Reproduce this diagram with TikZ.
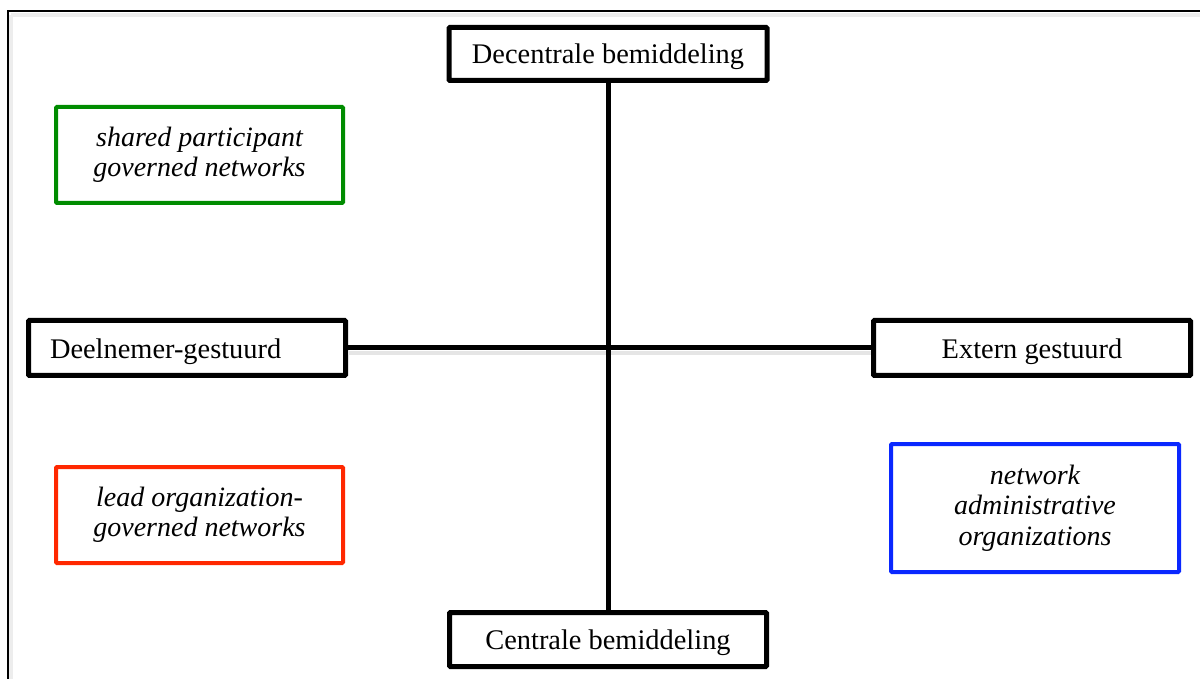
\documentclass[tikz,border=0pt]{standalone}
\usepackage{fontspec}
\setmainfont{Liberation Serif}
\begin{document}
\begin{tikzpicture}[x=0.5pt,y=-0.5pt,
  axisbox/.style={draw=black, line width=2.5pt, fill=white, rounded corners=0.5pt,
    minimum width=158.5pt, minimum height=27pt, inner sep=0pt,
    text height=11pt, text depth=1pt,
    font=\fontsize{14.2}{15}\selectfont},
  typebox/.style={line width=2pt, fill=white, rounded corners=0.5pt,
    inner sep=0pt, align=center,
    font=\fontsize{14}{15.2}\selectfont\itshape},
  axisline/.style={line width=2.5pt, black},
  shade/.style={black!7, line width=2pt}
]
\useasboundingbox (0,0) rectangle (1200,679);
\begin{scope}
\clip (0,0) rectangle (1200,679);
% outer frame with soft shadow
\draw[shade] (11,15) -- (1210,15);
\draw[shade] (11,15) -- (11,700);
\draw[line width=1pt, black] (8,700) -- (8,11) -- (1210,11);
\end{scope}

% axis nodes
\node[axisbox, minimum width=159pt, minimum height=26.5pt] (top) at (608,54) {Decentrale bemiddeling};
\node[axisbox] (bottom) at (608,639.5) {Centrale bemiddeling};
\node[axisbox, minimum height=27.5pt, text width=137pt, inner xsep=10.75pt, align=left] (left) at (187,348) {Deelnemer-gestuurd};
\node[axisbox, minimum height=27.5pt] (right) at (1032,348) {Extern gestuurd};

% axes
\draw[black!10, line width=2pt] ([yshift=-2.5pt]left.east) -- ([yshift=-2.5pt]right.west);
\draw[axisline] (top.south) -- (bottom.north);
\draw[axisline] (left.east) -- (right.west);

% governance types
\node[typebox, draw={rgb,255:red,0;green,140;blue,0}, minimum width=143.5pt, minimum height=48pt] (spg) at (199.5,155)
  {shared participant\\governed networks};
\node[typebox, draw={rgb,255:red,255;green,40;blue,0}, minimum width=143.5pt, minimum height=48pt] (log) at (199.5,515)
  {lead organization-\\governed networks};
\node[typebox, draw={rgb,255:red,10;green,40;blue,255}, minimum width=144pt, minimum height=64pt] (nao) at (1035,508)
  {network\\administrative\\organizations};
\end{tikzpicture}
\end{document}
